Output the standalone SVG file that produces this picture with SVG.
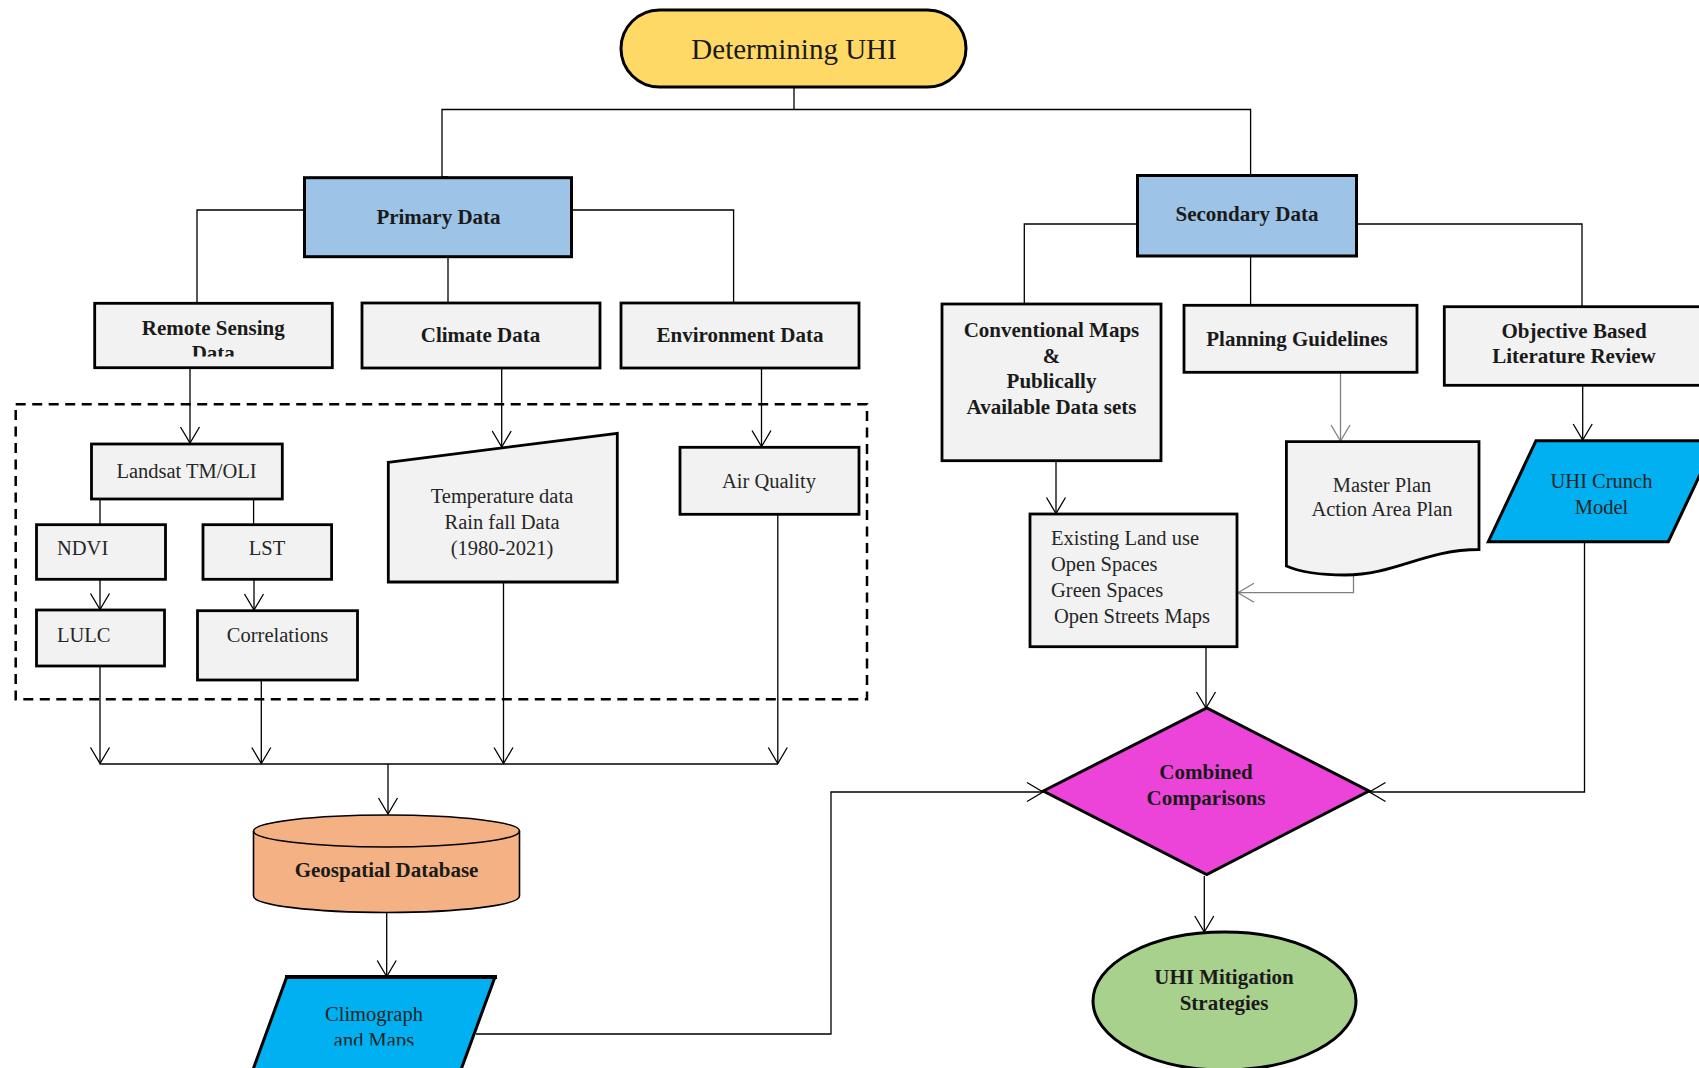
<svg xmlns="http://www.w3.org/2000/svg" width="1699" height="1068" viewBox="0 0 1699 1068">
<style>
.box{fill:#F2F2F2;stroke:#000;stroke-width:2.8}
.b{font-family:"Liberation Serif",serif;font-weight:bold;font-size:21px;fill:#1a1a1a;text-anchor:middle}
.r{font-family:"Liberation Serif",serif;font-size:20.5px;fill:#262626;text-anchor:middle}
.l{text-anchor:start}
.c{fill:none;stroke:#000;stroke-width:1.3}
.g{fill:none;stroke:#808080;stroke-width:1.3}
</style>
<defs>
<marker id="a" markerUnits="userSpaceOnUse" markerWidth="40" markerHeight="40" viewBox="-20 -20 40 40" refX="0" refY="0" orient="auto">
<path d="M-16,-9.5 L0,0 L-16,9.5" fill="none" stroke="#000" stroke-width="1.3"/>
</marker>
<marker id="ag" markerUnits="userSpaceOnUse" markerWidth="40" markerHeight="40" viewBox="-20 -20 40 40" refX="0" refY="0" orient="auto">
<path d="M-16,-9.5 L0,0 L-16,9.5" fill="none" stroke="#808080" stroke-width="1.3"/>
</marker>
<clipPath id="clipRS"><rect x="94" y="303" width="240" height="53.5"/></clipPath>
<clipPath id="clipCM"><rect x="240" y="977" width="270" height="68.5"/></clipPath>
</defs>

<g id="dashed-frame">
<rect x="15.7" y="404.3" width="851.3" height="295" fill="none" stroke="#000" stroke-width="2.5" stroke-dasharray="10,6.5"/>
</g>

<g id="connectors">
<path class="c" d="M794,87 V109.5"/>
<path class="c" d="M448,177 H442 V109.5 H1250.6 V175.5"/>
<path class="c" d="M304.5,210 H197 V304 H203.5"/>
<path class="c" d="M571,210 H733.6 V304.5 H746"/>
<path class="c" d="M448,257 V303"/>
<path class="c" d="M1137.5,224 H1024.3 V304.5 H1030"/>
<path class="c" d="M1250.6,256 V305.3"/>
<path class="c" d="M1356.8,224 H1582 V306.7"/>
<path class="c" d="M190,367.7 V443" marker-end="url(#a)"/>
<path class="c" d="M501.7,368 V447" marker-end="url(#a)"/>
<path class="c" d="M761.5,368 V446.5" marker-end="url(#a)"/>
<path class="c" d="M100,499 V524.7"/>
<path class="c" d="M253.6,499 V524.7"/>
<path class="c" d="M100,579.3 V609.5" marker-end="url(#a)"/>
<path class="c" d="M254,579.3 V610" marker-end="url(#a)"/>
<path class="c" d="M100,666 V763.5" marker-end="url(#a)"/>
<path class="c" d="M261.3,680 V763.5" marker-end="url(#a)"/>
<path class="c" d="M503.5,582 V763.5" marker-end="url(#a)"/>
<path class="c" d="M777.8,514.3 V763.5" marker-end="url(#a)"/>
<path class="c" d="M99.7,764 H778"/>
<path class="c" d="M388,764 V814" marker-end="url(#a)"/>
<path class="c" d="M386.7,912.5 V976.5" marker-end="url(#a)"/>
<path class="c" d="M476,1034 H831 V792 H1043" marker-end="url(#a)"/>
<path class="c" d="M1056,460.7 V513.5" marker-end="url(#a)"/>
<path class="g" d="M1340.5,372.3 V441" marker-end="url(#ag)"/>
<path class="g" d="M1353.5,575 V592.7 H1238" marker-end="url(#ag)"/>
<path class="c" d="M1582.7,378.7 V440" marker-end="url(#a)"/>
<path class="c" d="M1206,646.8 V708" marker-end="url(#a)"/>
<path class="c" d="M1584.5,541.7 V792 H1369.5" marker-end="url(#a)"/>
<path class="c" d="M1204.3,876 V932" marker-end="url(#a)"/>
</g>

<g id="determining-uhi">
<rect x="621" y="10" width="345" height="77" rx="38.5" fill="#FFD966" stroke="#000" stroke-width="3"/>
<text x="794" y="58.5" font-family="'Liberation Serif',serif" font-size="29" fill="#1a1a1a" text-anchor="middle">Determining UHI</text>
</g>

<g id="primary-data">
<rect x="304.5" y="177.7" width="267" height="79" fill="#9DC3E6" stroke="#000" stroke-width="3"/>
<text class="b" x="438.5" y="224">Primary Data</text>
</g>

<g id="secondary-data">
<rect x="1137.5" y="175.5" width="219" height="80.5" fill="#9DC3E6" stroke="#000" stroke-width="3"/>
<text class="b" x="1247" y="221">Secondary Data</text>
</g>

<g id="remote-sensing">
<rect class="box" x="94.7" y="303.3" width="237.6" height="64.4"/>
<g clip-path="url(#clipRS)">
<text class="b" x="213.3" y="335">Remote Sensing</text>
<text class="b" x="213.3" y="360">Data</text>
</g>
</g>

<g id="climate-data">
<rect class="box" x="362" y="303" width="238" height="65"/>
<text class="b" x="480.5" y="342">Climate Data</text>
</g>

<g id="environment-data">
<rect class="box" x="621" y="303" width="238" height="65"/>
<text class="b" x="740" y="342">Environment Data</text>
</g>

<g id="conventional-maps">
<rect class="box" x="942" y="304" width="219" height="156.7"/>
<text class="b" x="1051.5" y="337">Conventional Maps</text>
<text class="b" x="1051.5" y="363">&amp;</text>
<text class="b" x="1051.5" y="388">Publically</text>
<text class="b" x="1051.5" y="414">Available Data sets</text>
</g>

<g id="planning-guidelines">
<rect class="box" x="1184" y="305.3" width="233" height="67"/>
<text class="b" x="1297" y="346">Planning Guidelines</text>
</g>

<g id="objective-review">
<rect class="box" x="1444.3" y="306.7" width="275" height="78.6"/>
<text class="b" x="1574" y="338">Objective Based</text>
<text class="b" x="1574" y="363">Literature Review</text>
</g>

<g id="landsat">
<rect class="box" x="91.5" y="444" width="190.8" height="55"/>
<text class="r" x="186.5" y="478" font-size="21.5">Landsat TM/OLI</text>
</g>

<g id="ndvi">
<rect class="box" x="36.5" y="524.7" width="129" height="54.6"/>
<text class="r l" x="57" y="555">NDVI</text>
</g>

<g id="lst">
<rect class="box" x="203" y="524.7" width="128.6" height="54.6"/>
<text class="r" x="267" y="555">LST</text>
</g>

<g id="lulc">
<rect class="box" x="36.5" y="610" width="128" height="56"/>
<text class="r l" x="57" y="642">LULC</text>
</g>

<g id="correlations">
<rect class="box" x="197.5" y="610.7" width="160" height="69.3"/>
<text class="r" x="277.5" y="642">Correlations</text>
</g>

<g id="temperature-data">
<polygon class="box" points="388.3,462.3 617.3,433.3 617.3,582 388.3,582"/>
<text class="r" x="502" y="503" font-size="21">Temperature data</text>
<text class="r" x="502" y="529" font-size="21">Rain fall Data</text>
<text class="r" x="502" y="555" font-size="21">(1980-2021)</text>
</g>

<g id="air-quality">
<rect class="box" x="680" y="447.3" width="179" height="67"/>
<text class="r" x="769" y="488">Air Quality</text>
</g>

<g id="geospatial-database">
<path d="M253.5,831 A133,16 0 0 1 519.5,831 V896 A133,16.5 0 0 1 253.5,896 Z" fill="#F4B183" stroke="#000" stroke-width="1.6"/>
<path d="M253.5,831 A133,16 0 0 0 519.5,831" fill="none" stroke="#000" stroke-width="1.6"/>
<text class="b" x="386.5" y="877">Geospatial Database</text>
</g>

<g id="climograph">
<polygon points="286.7,977 495,977 456.5,1082 248.5,1082" fill="#00B0F0" stroke="#000" stroke-width="3"/>
<line x1="285" y1="977" x2="497" y2="977" stroke="#000" stroke-width="4"/>
<g clip-path="url(#clipCM)">
<text class="r" x="374" y="1021" fill="#0d1b2a">Climograph</text>
<text class="r" x="374" y="1047" fill="#0d1b2a">and Maps</text>
</g>
</g>

<g id="existing-land-use">
<rect class="box" x="1030" y="514" width="207" height="132.7"/>
<text class="r l" x="1051" y="545">Existing Land use</text>
<text class="r l" x="1051" y="571">Open Spaces</text>
<text class="r l" x="1051" y="597">Green Spaces</text>
<text class="r l" x="1054" y="623">Open Streets Maps</text>
</g>

<g id="master-plan">
<path class="box" d="M1286.4,441.7 H1479 V549.5 C1425,549.5 1395,575 1345,575 C1318,575 1300,572 1286.4,566 Z"/>
<text class="r" x="1382" y="492">Master Plan</text>
<text class="r" x="1382" y="516">Action Area Plan</text>
</g>

<g id="uhi-crunch-model">
<polygon points="1536,440.7 1716,440.7 1668.3,541.7 1488.3,541.7" fill="#00B0F0" stroke="#000" stroke-width="3"/>
<text class="r" x="1601.5" y="488" fill="#0d1b2a">UHI Crunch</text>
<text class="r" x="1601.5" y="514" fill="#0d1b2a">Model</text>
</g>

<g id="combined-comparisons">
<polygon points="1043.3,791 1206.7,708 1369,791 1206.7,874.5" fill="#EC44D9" stroke="#000" stroke-width="3"/>
<text class="b" x="1206" y="779">Combined</text>
<text class="b" x="1206" y="805">Comparisons</text>
</g>

<g id="uhi-mitigation">
<ellipse cx="1224.5" cy="1001" rx="131.5" ry="69" fill="#A9D18E" stroke="#000" stroke-width="3"/>
<text class="b" x="1224" y="984">UHI Mitigation</text>
<text class="b" x="1224" y="1010">Strategies</text>
</g>
</svg>
